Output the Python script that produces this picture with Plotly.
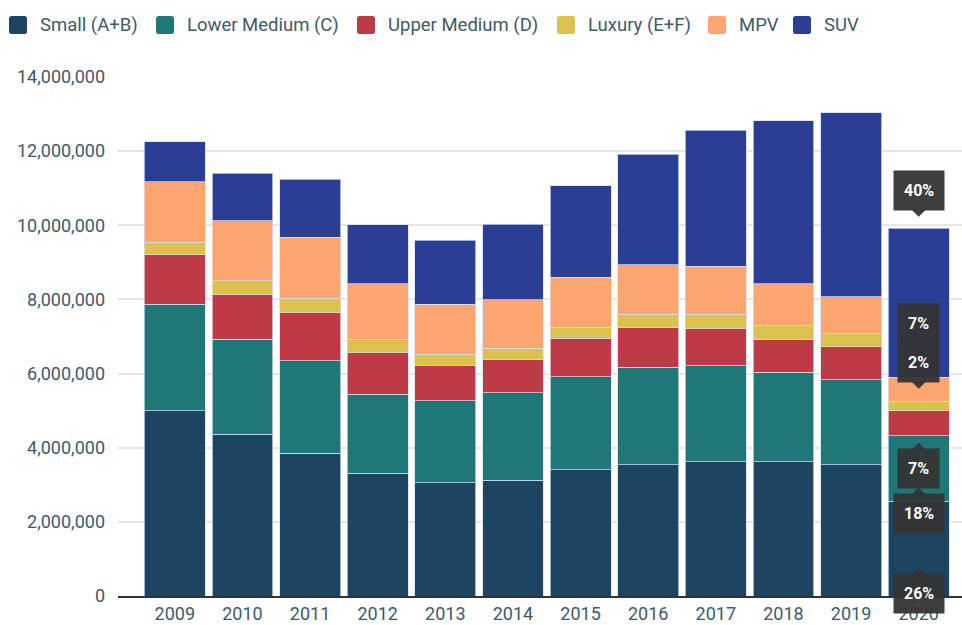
import plotly.graph_objects as go

years = ["2009", "2010", "2011", "2012", "2013", "2014", "2015", "2016", "2017", "2018", "2019", "2020"]

small = [5.00, 4.36, 3.85, 3.31, 3.06, 3.12, 3.41, 3.54, 3.62, 3.62, 3.54, 2.56]
lower_medium = [2.87, 2.56, 2.50, 2.13, 2.21, 2.36, 2.50, 2.63, 2.59, 2.42, 2.29, 1.76]
upper_medium = [1.33, 1.20, 1.29, 1.12, 0.94, 0.91, 1.04, 1.08, 1.00, 0.87, 0.90, 0.68]
luxury = [0.34, 0.39, 0.39, 0.35, 0.31, 0.29, 0.30, 0.35, 0.39, 0.38, 0.35, 0.26]
mpv = [1.64, 1.61, 1.65, 1.51, 1.35, 1.31, 1.35, 1.34, 1.29, 1.13, 0.99, 0.64]
suv = [1.08, 1.28, 1.56, 1.60, 1.72, 2.04, 2.46, 2.98, 3.68, 4.40, 4.97, 4.02]

series_names = ["Small (A+B)", "Lower Medium (C)", "Upper Medium (D)", "Luxury (E+F)", "MPV", "SUV"]
series_values = [small, lower_medium, upper_medium, luxury, mpv, suv]
colors = ["#1d4460", "#1f7777", "#bf3a47", "#dbc24e", "#fda672", "#2b3e95"]

share_labels_2020 = ["26%", "18%", "7%", "2%", "7%", "40%"]

TEXT = "#3f5a6b"
FONT = "Roboto"

# plot area geometry (pixels)
ML, MT, MB = 118, 77, 29

fig = go.Figure()
for name, vals, col in zip(series_names, series_values, colors):
    fig.add_trace(go.Bar(
        x=list(range(len(years))),
        y=[v * 1e6 for v in vals],
        name=name,
        marker=dict(color=col, line=dict(color="rgba(215,220,238,0.9)", width=0.8)),
        hoverinfo="skip",
        showlegend=False,
    ))

shapes = []
annotations = []

# custom legend (swatch + text), pixel positions of each entry
legend_x = [9, 156, 357, 557, 708, 793]
for name, col, lx in zip(series_names, colors, legend_x):
    x0, x1 = lx - ML, lx + 18 - ML
    yt, yb = MT - 16, MT - 34
    r = 2.5
    path = ("M %g %g L %g %g Q %g %g %g %g L %g %g Q %g %g %g %g "
            "L %g %g Q %g %g %g %g L %g %g Q %g %g %g %g Z") % (
        x0 + r, yt, x1 - r, yt, x1, yt, x1, yt - r,
        x1, yb + r, x1, yb, x1 - r, yb,
        x0 + r, yb, x0, yb, x0, yb + r,
        x0, yt - r, x0, yt, x0 + r, yt)
    shapes.append(dict(
        type="path", xref="paper", yref="paper", xsizemode="pixel", ysizemode="pixel",
        xanchor=0, yanchor=1, path=path, fillcolor=col, line=dict(width=0), layer="above",
    ))
    annotations.append(dict(
        x=0, y=1, xref="paper", yref="paper", xanchor="left", yanchor="middle",
        xshift=lx + 29 - ML, yshift=MT - 24.5, text=name, showarrow=False,
        font=dict(family=FONT, size=18.5, color=TEXT),
    ))

# callout boxes on 2020 bar (label y in millions, pointer direction)
callouts = [
    (5, 10.93, "down"),
    (4, 7.36, "down"),
    (3, 6.29, "down"),
    (2, 3.43, "up"),
    (1, 2.23, "up"),
    (0, 0.07, "up"),
]
last = len(years) - 1
box_col = "rgba(52,52,52,0.95)"
for idx, ym, direction in callouts:
    annotations.append(dict(
        x=last, y=ym * 1e6, xref="x", yref="y",
        text="<b>%s</b>" % share_labels_2020[idx],
        showarrow=False, bgcolor=box_col, borderpad=10,
        font=dict(family=FONT, size=16, color="white"),
        xanchor="center", yanchor="middle",
    ))
    if direction == "down":
        path = "M -7 -19 L 7 -19 L 0 -26 Z"
    else:
        path = "M -7 19 L 7 19 L 0 26 Z"
    shapes.append(dict(
        type="path", xref="x", yref="y", xsizemode="pixel", ysizemode="pixel",
        xanchor=last, yanchor=ym * 1e6, path=path,
        fillcolor=box_col, line=dict(width=0), layer="above",
    ))

fig.update_layout(
    barmode="stack",
    bargap=0.1,
    width=962, height=625,
    margin=dict(l=ML, r=0, t=MT, b=MB),
    paper_bgcolor="white", plot_bgcolor="white",
    font=dict(family=FONT, size=18, color=TEXT),
    showlegend=False,
    xaxis=dict(
        tickmode="array", tickvals=list(range(len(years))), ticktext=years,
        range=[-0.84, 11.64], showgrid=False, showline=True,
        linecolor="#333333", linewidth=1.5, ticks="", ticklabelstandoff=1,
        tickfont=dict(family=FONT, size=18, color=TEXT), fixedrange=True,
        automargin=False,
    ),
    yaxis=dict(
        range=[0, 14e6], tickvals=[0, 2e6, 4e6, 6e6, 8e6, 10e6, 12e6, 14e6],
        tickformat=",d", showgrid=True, gridcolor="#e6e6e6", gridwidth=1.5,
        zeroline=False, ticks="", ticklabelstandoff=12,
        tickfont=dict(family=FONT, size=18, color=TEXT), fixedrange=True,
        automargin=False,
    ),
    shapes=shapes,
    annotations=annotations,
)

fig.write_html("out.html", config={"displayModeBar": False},
               post_script="document.body.style.margin='0px';")
